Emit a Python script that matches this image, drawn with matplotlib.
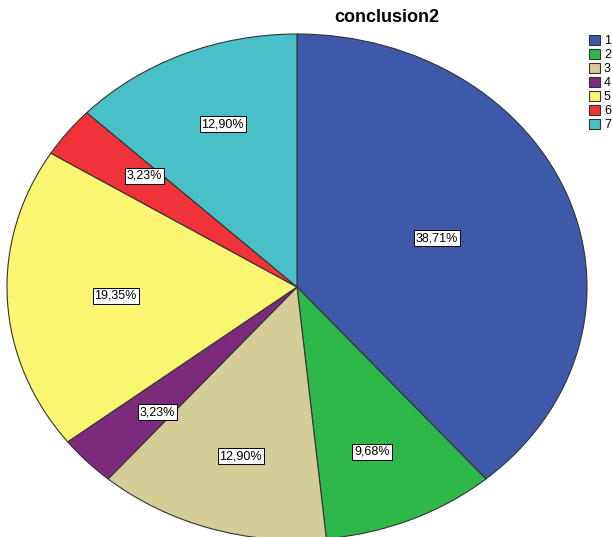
import matplotlib
matplotlib.use("Agg")
import matplotlib.pyplot as plt
from matplotlib.patches import Patch
import numpy as np

plt.rcParams['font.family'] = ['Liberation Sans', 'DejaVu Sans']

categories = ["1", "2", "3", "4", "5", "6", "7"]
counts = [12, 3, 4, 1, 6, 1, 4]
pct_labels = ["38,71%", "9,68%", "12,90%", "3,23%", "19,35%", "3,23%", "12,90%"]
colors = ["#3e58aa", "#2fb84a", "#d4cd98", "#7c2a7c", "#fbf672", "#f0323a", "#49c0c7"]
title = "conclusion2"

fig = plt.figure(figsize=(6.12, 5.37), dpi=100)
ax = fig.add_axes([0, 0, 1, 1])

wedges, _ = ax.pie(counts, colors=colors, startangle=90, counterclock=False,
                   wedgeprops=dict(edgecolor="#333333", linewidth=0.8))

# labels at the wedge centroids
for w, lab in zip(wedges, pct_labels):
    t1, t2 = np.radians(w.theta1), np.radians(w.theta2)
    a = (t2 - t1) / 2
    mid = (t1 + t2) / 2
    d = (2.0 / 3.0) * np.sin(a) / a
    ax.text(d * np.cos(mid), 1.08 * d * np.sin(mid), lab, fontsize=9, ha="center", va="center",
            bbox=dict(boxstyle="square,pad=0.15", facecolor="white", edgecolor="black", linewidth=0.7))

# elliptical pie: center (297,287)px, rx=290px, ry=253px
cx, cy, rx, ry = 297, 287, 290, 253
W, H = 612, 537
ax.set_aspect('auto')
ax.set_xlim(-cx / rx, (W - cx) / rx)
ax.set_ylim(-(H - cy) / ry, cy / ry)
ax.axis('off')

fig.text(387 / W, 1 - 17 / H, title, ha="center", va="center", fontsize=13, fontweight="bold")

handles = [Patch(facecolor=c, edgecolor="#333333", linewidth=0.8) for c in colors]
leg = fig.legend(handles, categories, loc="upper left", bbox_to_anchor=(589 / W, 1 - 35 / H),
                 frameon=False, fontsize=9, handlelength=0.9, handleheight=0.9,
                 handletextpad=0.3, labelspacing=0.12, borderpad=0, borderaxespad=0)

fig.savefig("out.png", dpi=100)
